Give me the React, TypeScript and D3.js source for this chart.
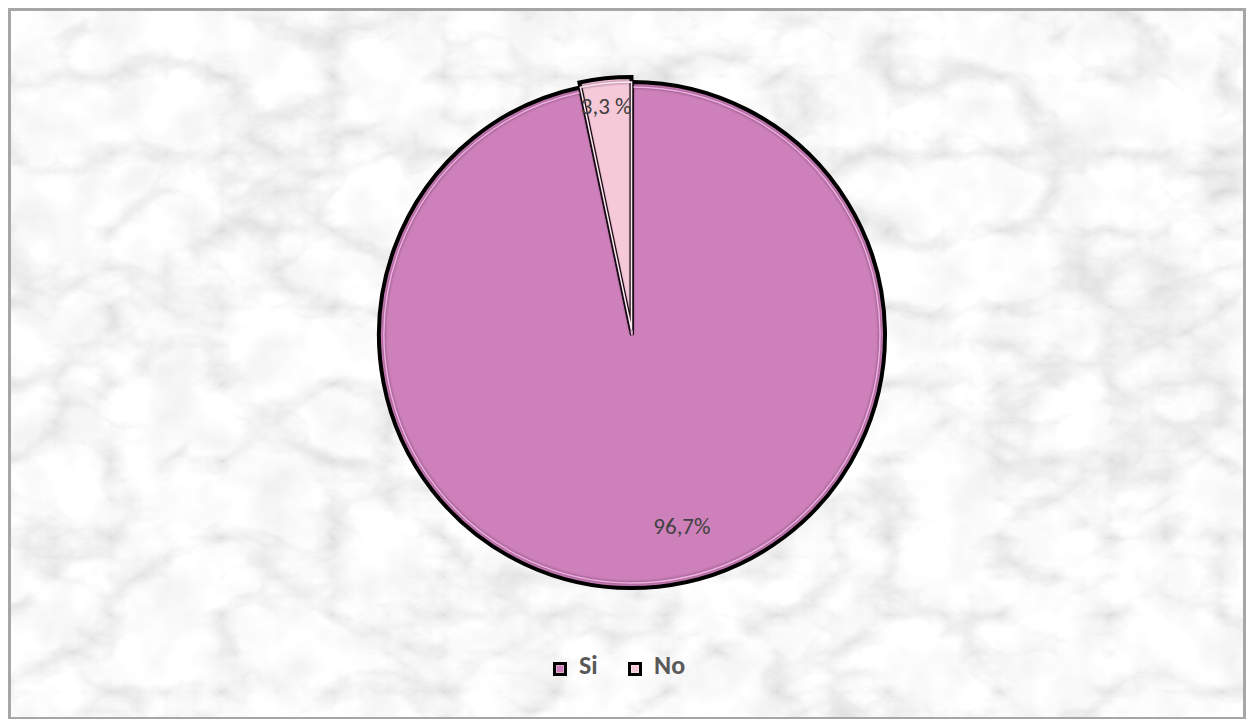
import { useMemo } from "react";
import { pie, arc } from "d3";

const width = 1246;
const height = 719;

const categories = ["Si", "No"];
const values = [96.7, 3.3];
const labels = ["96,7%", "3,3 %"];
const fills = ["#CD80BA", "#F6C9D8"];
const highlights = ["#EDB0E0", "#FFE8F0"];

const cx = 632;
const cy = 335;
const radius = 253;
const explode = [0, 5];

const font = "Carlito, Lato, 'Liberation Sans', sans-serif";

export default function App() {
  const slices = useMemo(
    () =>
      pie<number>()
        .sort(null)
        .value((d) => d)(values),
    []
  );

  const outer = arc<any>().innerRadius(0).outerRadius(radius);
  const inner = arc<any>().innerRadius(0).outerRadius(radius - 5);
  const labelArc = arc<any>()
    .innerRadius(radius * 0.76)
    .outerRadius(radius * 0.76);

  return (
    <svg
      width={width}
      height={height}
      style={{ position: "absolute", left: 0, top: 0, display: "block" }}
    >
      <defs>
        <filter id="marble" x="0" y="0" width="100%" height="100%">
          <feTurbulence
            type="turbulence"
            baseFrequency="0.009 0.013"
            numOctaves={6}
            seed={11}
            result="t"
          />
          <feColorMatrix
            in="t"
            type="matrix"
            values="0.55 0.1 0 0 0.77  0.55 0.1 0 0 0.77  0.55 0.1 0 0 0.77  0 0 0 0 1"
            result="veins"
          />
          <feTurbulence
            type="fractalNoise"
            baseFrequency="0.02"
            numOctaves={3}
            seed={4}
            result="n"
          />
          <feColorMatrix
            in="n"
            type="matrix"
            values="0 0 0 0 0.5  0 0 0 0 0.5  0 0 0 0 0.5  -0.5 0 0 0 0.3"
            result="mottle"
          />
          <feBlend in="veins" in2="mottle" mode="multiply" />
        </filter>
        <filter id="soft" x="-5%" y="-5%" width="110%" height="110%">
          <feGaussianBlur stdDeviation="1.2" />
        </filter>
      </defs>

      <rect x={0} y={0} width={width} height={height} fill="#ffffff" />
      <rect x={10} y={10} width={1234} height={708} filter="url(#marble)" />
      <rect
        x={9.5}
        y={9.5}
        width={1235}
        height={709}
        fill="none"
        stroke="#A6A6A6"
        strokeWidth={3}
      />

      {slices.map((s, i) => {
        const mid = (s.startAngle + s.endAngle) / 2;
        const dx = Math.sin(mid) * explode[i];
        const dy = -Math.cos(mid) * explode[i];
        return (
          <g key={categories[i]} transform={`translate(${cx + dx},${cy + dy})`}>
            <path
              d={outer(s) as string}
              fill={fills[i]}
              stroke="#000"
              strokeWidth={4}
              strokeLinejoin="miter"
            />
            <path
              d={inner(s) as string}
              fill="none"
              stroke="#5a2e50"
              strokeOpacity={0.45}
              strokeWidth={3}
              filter="url(#soft)"
            />
            <path
              d={inner(s) as string}
              fill="none"
              stroke={highlights[i]}
              strokeWidth={1.5}
            />
          </g>
        );
      })}

      {slices.map((s, i) => {
        const mid = (s.startAngle + s.endAngle) / 2;
        const dx = Math.sin(mid) * explode[i];
        const dy = -Math.cos(mid) * explode[i];
        const [lx, ly] = labelArc.centroid(s);
        const r2 = i === 1 ? 0.89 / 0.76 : 1;
        const shift = i === 0 ? 30 : -2;
        return (
          <text
            key={"l" + i}
            x={cx + dx + lx * r2 + shift}
            y={cy + dy + ly * r2}
            textAnchor="middle"
            dominantBaseline="central"
            fontFamily={font}
            fontSize={23}
            fill="#404040"
          >
            {labels[i]}
          </text>
        );
      })}

      <g transform="translate(553,662)">
        {categories.map((c, i) => (
          <g key={c} transform={`translate(${i * 75},0)`}>
            <rect x={0} y={0} width={14} height={14} fill="#000" />
            <rect x={3} y={3} width={8} height={8} fill={fills[i]} />
            <rect
              x={3.5}
              y={3.5}
              width={7}
              height={7}
              fill="none"
              stroke="#fff"
              strokeOpacity={0.35}
            />
            <text
              x={26}
              y={12}
              fontFamily={font}
              fontWeight="bold"
              fontSize={26}
              fill="#595959"
            >
              {c}
            </text>
          </g>
        ))}
      </g>
    </svg>
  );
}
